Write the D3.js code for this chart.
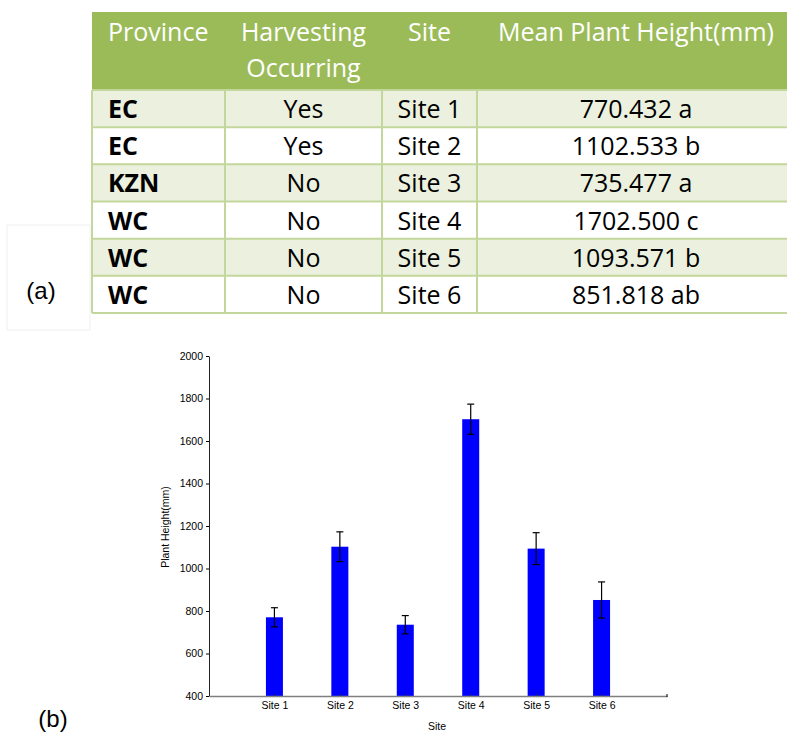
<!DOCTYPE html>
<html>
<head>
<meta charset="utf-8">
<script src="https://cdn.jsdelivr.net/npm/d3@7"></script>
<style>
  body { margin: 0; background: #fff; }
  .axis text { font-family: "Liberation Sans", Arial, sans-serif; font-size: 10.5px; fill: #000; }
</style>
</head>
<body>
<script>
// table + chart data
var provinces = ["EC", "EC", "KZN", "WC", "WC", "WC"];
var harvesting = ["Yes", "Yes", "No", "No", "No", "No"];
var sites = ["Site 1", "Site 2", "Site 3", "Site 4", "Site 5", "Site 6"];
var meanHeights = [770.432, 1102.533, 735.477, 1702.500, 1093.571, 851.818];
var groups = ["a", "b", "a", "c", "b", "ab"];
var errors = [45, 70, 43, 71, 75, 85];
var yTicks = [400, 600, 800, 1000, 1200, 1400, 1600, 1800, 2000];
var headers = [["Province"], ["Harvesting", "Occurring"], ["Site"], ["Mean Plant Height(mm)"]];

var w = 787, h = 734;

var svg = d3.select("body")
    .append("svg")
    .attr("width", w)
    .attr("height", h);

// ---------- (a) table ----------
var colEdges = [92, 225, 382, 477, 795];
var tableFont = "'Open Sans', 'Noto Sans', sans-serif";
var border = "#c3d69b";

var row = d3.scaleBand()
    .domain(d3.range(provinces.length))
    .range([90, 313]);

// faint frame around the (a) label
svg.append("rect")
    .attr("x", 7).attr("y", 225)
    .attr("width", 83).attr("height", 105)
    .style("fill", "none")
    .style("stroke", "#f0f0f0");

svg.append("text")
    .attr("x", 41).attr("y", 299)
    .attr("text-anchor", "middle")
    .style("font-family", "'Liberation Sans', Arial, sans-serif")
    .style("font-size", "24px")
    .text("(a)");

// header band
svg.append("rect")
    .attr("x", colEdges[0]).attr("y", 12)
    .attr("width", colEdges[4] - colEdges[0]).attr("height", 78)
    .style("fill", "#9bbb59");

// header text
headers.forEach(function (lines, c) {
    var left = c === 0;
    var t = svg.append("text")
        .attr("text-anchor", left ? "start" : "middle")
        .style("font-family", tableFont)
        .style("font-size", "25px")
        .style("fill", "#fff");
    lines.forEach(function (s, k) {
        t.append("tspan")
            .attr("x", left ? 108 : (colEdges[c] + colEdges[c + 1]) / 2)
            .attr("y", 41 + k * 36)
            .text(s);
    });
});

// row backgrounds
svg.selectAll(".rowbg")
    .data(provinces)
    .enter()
    .append("rect")
    .attr("class", "rowbg")
    .attr("x", colEdges[0])
    .attr("y", function (d, i) { return row(i); })
    .attr("width", colEdges[4] - colEdges[0])
    .attr("height", row.bandwidth())
    .style("fill", function (d, i) { return i % 2 === 0 ? "#ebf1de" : "#fff"; });

// horizontal rules
svg.selectAll(".hrule")
    .data(d3.range(provinces.length + 1))
    .enter()
    .append("line")
    .attr("class", "hrule")
    .attr("x1", colEdges[0]).attr("x2", colEdges[4])
    .attr("y1", function (i) { return i < provinces.length ? row(i) : row.range()[1]; })
    .attr("y2", function (i) { return i < provinces.length ? row(i) : row.range()[1]; })
    .style("stroke", border)
    .style("stroke-width", 2);

// vertical rules (body only)
svg.selectAll(".vrule")
    .data(colEdges.slice(0, 4))
    .enter()
    .append("line")
    .attr("class", "vrule")
    .attr("x1", function (d) { return d; })
    .attr("x2", function (d) { return d; })
    .attr("y1", 90).attr("y2", 313)
    .style("stroke", border)
    .style("stroke-width", 2);

// row cells
var cells = [provinces, harvesting, sites, meanHeights.map(function (v, i) {
    return v.toFixed(3) + " " + groups[i];
})];

cells.forEach(function (col, c) {
    svg.selectAll(".cell" + c)
        .data(col)
        .enter()
        .append("text")
        .attr("class", "cell" + c)
        .attr("x", c === 0 ? 108 : (colEdges[c] + colEdges[c + 1]) / 2)
        .attr("y", function (d, i) { return row(i) + 28; })
        .attr("text-anchor", c === 0 ? "start" : "middle")
        .style("font-family", tableFont)
        .style("font-size", "25px")
        .style("font-weight", c === 0 ? "bold" : "normal")
        .style("fill", "#000")
        .text(function (d) { return d; });
});

// ---------- (b) bar chart ----------
var x = d3.scalePoint()
    .domain(sites)
    .range([209, 667])
    .padding(1);

var y = d3.scaleLinear()
    .domain([400, 2000])
    .range([696, 356]);

var barW = 17;

svg.selectAll(".bar")
    .data(meanHeights)
    .enter()
    .append("rect")
    .attr("class", "bar")
    .attr("x", function (d, i) { return x(sites[i]) - barW / 2; })
    .attr("y", function (d) { return y(d); })
    .attr("width", barW)
    .attr("height", function (d) { return y(400) - y(d); })
    .style("fill", "#0000ff");

// error bars
var err = svg.selectAll(".err")
    .data(meanHeights)
    .enter()
    .append("g")
    .attr("class", "err")
    .style("stroke", "#000")
    .style("stroke-width", 1.2);

err.append("line")
    .attr("x1", function (d, i) { return x(sites[i]); })
    .attr("x2", function (d, i) { return x(sites[i]); })
    .attr("y1", function (d, i) { return y(d + errors[i]); })
    .attr("y2", function (d, i) { return y(d - errors[i]); });

[1, -1].forEach(function (s) {
    err.append("line")
        .attr("x1", function (d, i) { return x(sites[i]) - 3.5; })
        .attr("x2", function (d, i) { return x(sites[i]) + 3.5; })
        .attr("y1", function (d, i) { return y(d + s * errors[i]); })
        .attr("y2", function (d, i) { return y(d + s * errors[i]); });
});

// axes
var yAxis = svg.append("g")
    .attr("class", "axis")
    .attr("transform", "translate(209,0)")
    .call(d3.axisLeft(y).tickValues(yTicks).tickFormat(d3.format("d"))
        .tickSize(3).tickSizeOuter(0).tickPadding(3));
yAxis.select(".domain").style("stroke", "#222");

var xAxis = svg.append("g")
    .attr("class", "axis")
    .attr("transform", "translate(0,696)")
    .call(d3.axisBottom(x).tickSize(-2).tickSizeOuter(0).tickPadding(6));
xAxis.select(".domain").style("stroke", "#7f7f7f").style("stroke-width", 1.5);
xAxis.selectAll(".tick line").style("stroke", "#333");

// small end mark on x axis
svg.append("line")
    .attr("x1", 667).attr("x2", 667)
    .attr("y1", 694).attr("y2", 697)
    .style("stroke", "#000");

// axis titles
svg.append("text")
    .attr("x", 437).attr("y", 730)
    .attr("text-anchor", "middle")
    .style("font-family", "'Liberation Sans', Arial, sans-serif")
    .style("font-size", "10.5px")
    .text("Site");

svg.append("text")
    .attr("transform", "translate(169,527) rotate(-90)")
    .attr("text-anchor", "middle")
    .style("font-family", "'Liberation Sans', Arial, sans-serif")
    .style("font-size", "10.5px")
    .text("Plant Height(mm)");

svg.append("text")
    .attr("x", 53).attr("y", 727)
    .attr("text-anchor", "middle")
    .style("font-family", "'Liberation Sans', Arial, sans-serif")
    .style("font-size", "24px")
    .text("(b)");
</script>
</body>
</html>
